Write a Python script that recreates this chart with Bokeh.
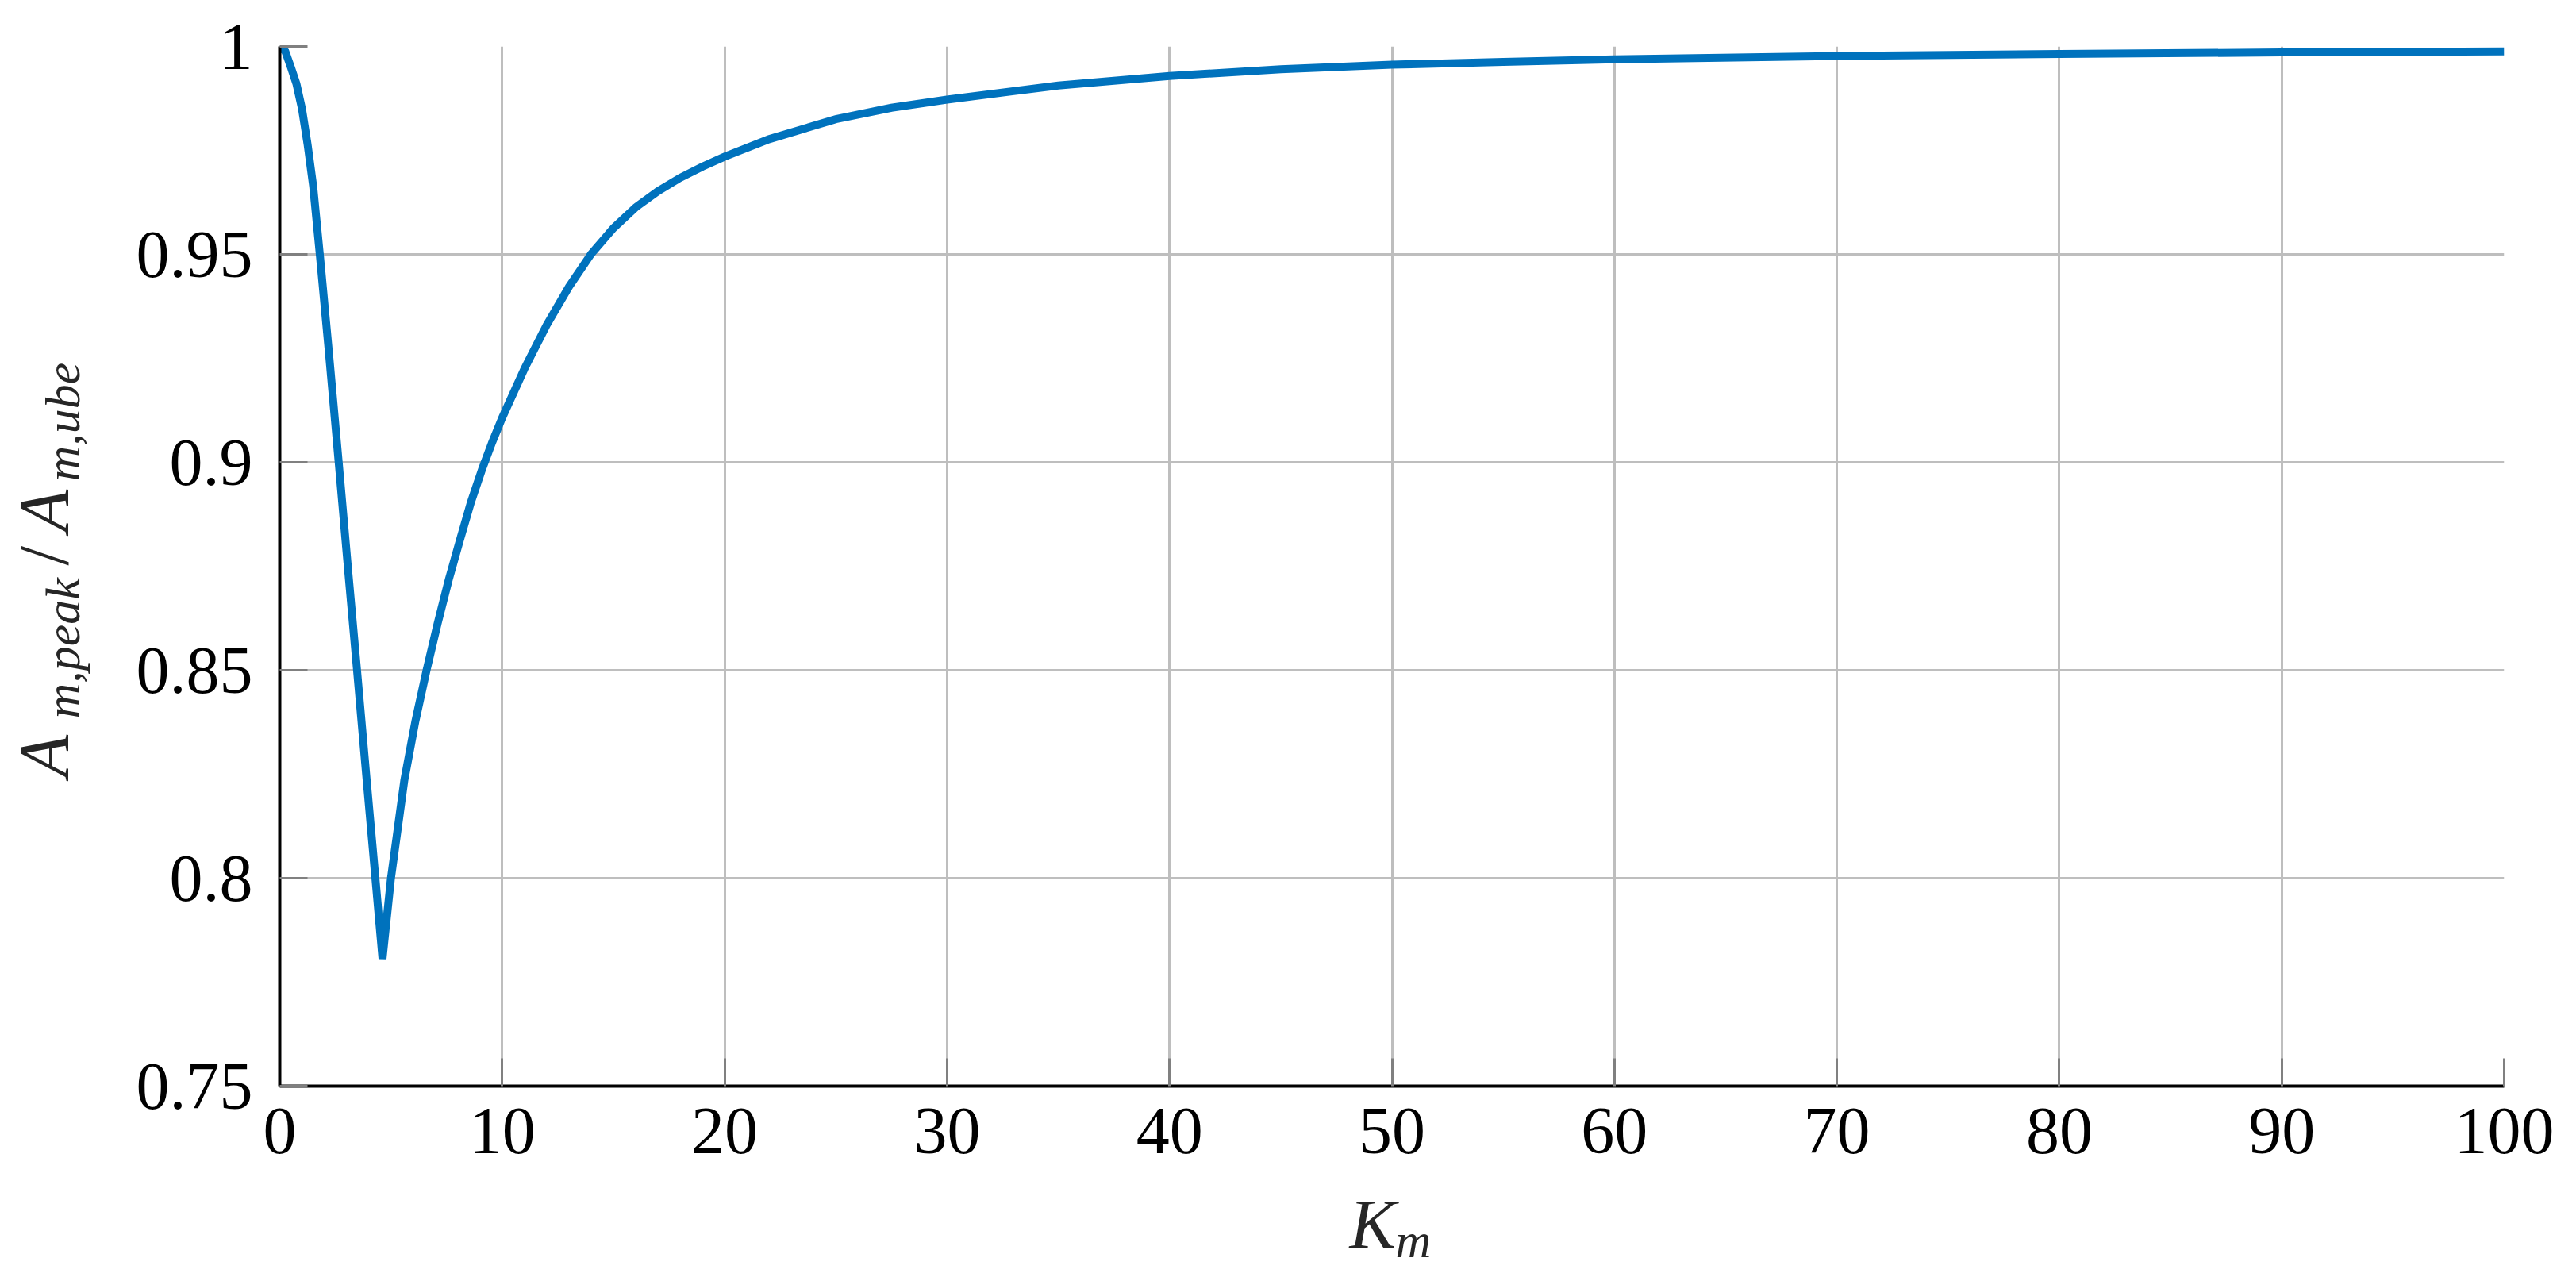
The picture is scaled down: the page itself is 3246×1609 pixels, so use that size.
import numpy as np
from bokeh.plotting import figure
from bokeh.layouts import row, column
from bokeh.models import Range1d, FixedTicker
from bokeh.embed import file_html
from bokeh.resources import INLINE

# ---- data ----
k_m = [0, 0.25, 0.5, 0.75, 1.0, 1.25, 1.5, 1.8, 2.2, 2.65, 3.1, 3.45, 3.9,
       4.3, 4.62,
       5.0, 5.6, 6.1, 6.6, 7.1, 7.6, 8.1, 8.6, 9.1, 9.55, 10, 11, 12, 13,
       14, 15, 16, 17, 18, 19, 20, 22, 25, 27.5, 30, 35, 40, 45, 50, 55,
       60, 70, 80, 90, 100]
ratio = [1.0, 0.9988, 0.995, 0.991, 0.985, 0.9765, 0.9665, 0.950, 0.927,
         0.900, 0.8725, 0.8515, 0.824, 0.800, 0.7806,
         0.800, 0.8235, 0.8378, 0.850, 0.8613, 0.8718, 0.8813, 0.8905,
         0.8984, 0.9048, 0.9107, 0.9225, 0.933, 0.9422, 0.9501, 0.9563,
         0.9613, 0.9652, 0.9684, 0.9711, 0.9735, 0.9777, 0.9825, 0.98525,
         0.9872, 0.9906, 0.9929, 0.9945, 0.9956, 0.9963, 0.9969, 0.9977,
         0.9982, 0.99855, 0.9988]

x_ticks = [0, 10, 20, 30, 40, 50, 60, 70, 80, 90, 100]
x_tick_labels = ["0", "10", "20", "30", "40", "50", "60", "70", "80", "90", "100"]
y_ticks = [0.75, 0.8, 0.85, 0.9, 0.95, 1.0]
y_tick_labels = ["0.75", "0.8", "0.85", "0.9", "0.95", "1"]

FONT = "Liberation Serif"
TXT = "#262626"

TOTAL_W, TOTAL_H = 3230, 1607
LAB_W = 140
MAIN_H = 1489
FRAME_TOP, FRAME_BOTTOM = 58, 1368
MID = 0.3375      # text is anchored at its vertical middle: baseline offset in em

# ---------------- main chart ----------------
p = figure(width=TOTAL_W - LAB_W, height=MAIN_H, output_backend="svg",
           toolbar_location=None, title=None,
           x_range=Range1d(0, 100), y_range=Range1d(0.75, 1.0),
           min_border_left=212, min_border_right=75,
           min_border_top=FRAME_TOP, min_border_bottom=MAIN_H - FRAME_BOTTOM)
p.background_fill_color = "white"
p.border_fill_color = "white"
p.outline_line_color = None

p.line(k_m, ratio, line_color="#0072BD", line_width=10, line_join="miter")

for ax, ticks, labels in ((p.xaxis[0], x_ticks, x_tick_labels),
                          (p.yaxis[0], y_ticks, y_tick_labels)):
    ax.ticker = FixedTicker(ticks=ticks)
    ax.major_label_overrides = {t: l for t, l in zip(ticks, labels)}
    ax.major_label_text_font = FONT
    ax.major_label_text_font_size = "84px"
    ax.major_label_text_color = "black"
    ax.axis_line_color = "black"
    ax.axis_line_width = 4
    ax.major_tick_in = 35
    ax.major_tick_out = 0
    ax.major_tick_line_color = "#808080"
    ax.major_tick_line_width = 3
    ax.minor_tick_line_color = None
p.xaxis.major_label_standoff = 28
p.yaxis.major_label_standoff = 34

for g in (p.xgrid[0], p.ygrid[0]):
    g.grid_line_color = "#bebebe"
    g.grid_line_width = 3


def strip(w, h, y_range):
    f = figure(width=w, height=h, output_backend="svg", toolbar_location=None,
               title=None, x_range=Range1d(0, w), y_range=y_range,
               x_axis_location=None, y_axis_location=None,
               min_border=0, min_border_left=0, min_border_right=0,
               min_border_top=0, min_border_bottom=0)
    f.outline_line_color = None
    f.background_fill_color = "white"
    f.border_fill_color = "white"
    f.xgrid.visible = False
    f.ygrid.visible = False
    return f


def piece(fig, text, x, y, size, style="italic", angle=0.0):
    fig.text(x=[x], y=[y], text=[text], text_font={"value": FONT},
             text_font_size={"value": f"{size}px"}, text_font_style=style,
             text_color=TXT, angle=angle,
             text_align="left", text_baseline="alphabetic")


# ---- y-axis title strip (its frame lines up with the main frame) ----
# data coordinates = page pixels (y grows downward)
ylab = strip(LAB_W, MAIN_H, Range1d(FRAME_BOTTOM, FRAME_TOP))
rot = np.pi / 2
BIG, SUB = 88, 62
base_big, base_sub = 85, 99          # baseline x of big letters / subscripts
piece(ylab, "A", base_big - MID * BIG, 979, BIG, angle=rot)
piece(ylab, "m,peak", base_sub - MID * SUB, 905, SUB, angle=rot)
piece(ylab, "/", base_big - MID * BIG, 712, BIG, style="normal", angle=rot)
piece(ylab, "A", base_big - MID * BIG, 670, BIG, angle=rot)
piece(ylab, "m,ube", base_sub - MID * SUB, 606, SUB, angle=rot)

# ---- x-axis title strip: K_m (data coordinates = page pixels) ----
xlab = strip(TOTAL_W, TOTAL_H - MAIN_H, Range1d(TOTAL_H, MAIN_H))
piece(xlab, "K", 1700, 1572 - MID * BIG, BIG)
piece(xlab, "m", 1758, 1583 - MID * SUB, SUB)

layout = column(row(ylab, p), xlab)
open("out.html", "w").write(file_html(layout, INLINE))
